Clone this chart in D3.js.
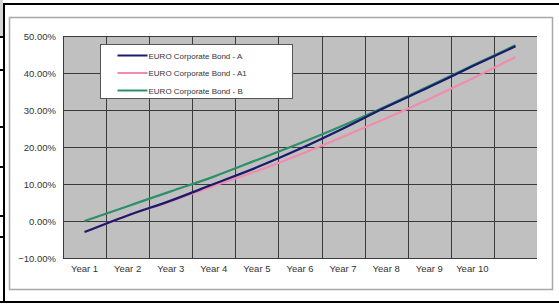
<!DOCTYPE html>
<html>
<head>
<meta charset="utf-8">
<script src="https://cdn.jsdelivr.net/npm/d3@7"></script>
<style>
  body { margin: 0; background: #fff; }
  svg { display: block; font-family: "Liberation Sans", Arial, sans-serif; }
</style>
</head>
<body>
<div id="chart"></div>
<script>
var categories = ["Year 1", "Year 2", "Year 3", "Year 4", "Year 5", "Year 6", "Year 7", "Year 8", "Year 9", "Year 10", ""];
var seriesNames = ["EURO Corporate Bond - A", "EURO Corporate Bond - A1", "EURO Corporate Bond - B"];
var bondA  = [-0.030, 0.015, 0.055, 0.100, 0.145, 0.195, 0.250, 0.308, 0.362, 0.418, 0.472];
var bondA1 = [-0.030, 0.015, 0.053, 0.095, 0.135, 0.180, 0.228, 0.278, 0.330, 0.385, 0.443];
var bondB  = [0.000, 0.040, 0.080, 0.120, 0.165, 0.210, 0.258, 0.310, 0.365, 0.420, 0.475];
var yTicks = [-0.1, 0, 0.1, 0.2, 0.3, 0.4, 0.5];
var colors = ["#1a1a6e", "#f08cae", "#2e8f6a"];

var svgWidth = 559, svgHeight = 307;
var plot = { left: 63, right: 537, top: 36, bottom: 258 };

var svg = d3.select("#chart").append("svg")
    .attr("width", svgWidth)
    .attr("height", svgHeight);

// page frame bits
svg.append("rect").attr("x", 0).attr("y", 0).attr("width", 3).attr("height", 36).attr("fill", "#d4d4d4");
svg.append("line").attr("x1", 4).attr("x2", 559).attr("y1", 4).attr("y2", 4).attr("stroke", "#000").attr("stroke-width", 2);
svg.append("line").attr("x1", 4).attr("x2", 4).attr("y1", 3).attr("y2", 303).attr("stroke", "#000").attr("stroke-width", 2);
svg.append("line").attr("x1", 0).attr("x2", 559).attr("y1", 302).attr("y2", 302).attr("stroke", "#000").attr("stroke-width", 2);
[37, 70, 127, 167, 216, 237].forEach(function(y) {
    svg.append("line").attr("x1", 0).attr("x2", 4).attr("y1", y).attr("y2", y).attr("stroke", "#000").attr("stroke-width", 2);
});

// chart area
svg.append("rect")
    .attr("x", 9.5).attr("y", 17.5).attr("width", 543).attr("height", 272)
    .attr("fill", "#fff").attr("stroke", "#a8a8a8").attr("stroke-width", 1.5);

var x = d3.scaleBand().domain(d3.range(categories.length)).range([plot.left, plot.right]);
var y = d3.scaleLinear().domain([-0.1, 0.5]).range([plot.bottom, plot.top]);

var chartGroup = svg.append("g");

chartGroup.append("rect")
    .attr("x", plot.left).attr("y", plot.top)
    .attr("width", plot.right - plot.left).attr("height", plot.bottom - plot.top)
    .attr("fill", "#c0c0c0");

// horizontal gridlines
chartGroup.selectAll(".hgrid")
    .data(yTicks)
    .enter()
    .append("line")
    .attr("x1", plot.left).attr("x2", plot.right)
    .attr("y1", d => Math.round(y(d)) + 0.5).attr("y2", d => Math.round(y(d)) + 0.5)
    .attr("stroke", "#3a3a3a").attr("stroke-width", 1);

// vertical gridlines at category boundaries
chartGroup.selectAll(".vgrid")
    .data(d3.range(1, categories.length))
    .enter()
    .append("line")
    .attr("x1", d => Math.round(x(d)) + 0.5).attr("x2", d => Math.round(x(d)) + 0.5)
    .attr("y1", plot.top).attr("y2", plot.bottom)
    .attr("stroke", "#3a3a3a").attr("stroke-width", 1);

// axis line
chartGroup.append("line")
    .attr("x1", plot.left + 0.5).attr("x2", plot.left + 0.5)
    .attr("y1", plot.top).attr("y2", plot.bottom)
    .attr("stroke", "#3a3a3a");

// y labels
var yAxis = d3.axisLeft(y).tickValues(yTicks).tickSize(0).tickPadding(7)
    .tickFormat(d => d3.format(".2f")(d * 100) + "%");
chartGroup.append("g")
    .attr("transform", `translate(${plot.left}, 0)`)
    .call(yAxis)
    .call(g => g.select(".domain").remove())
    .call(g => g.selectAll("text").attr("font-size", "9.5px").attr("fill", "#333").attr("font-family", "Liberation Sans, Arial, sans-serif"));

// x labels
var xAxis = d3.axisBottom(x).tickSize(0).tickPadding(7).tickFormat(i => categories[i]);
chartGroup.append("g")
    .attr("transform", `translate(0, ${plot.bottom})`)
    .call(xAxis)
    .call(g => g.select(".domain").remove())
    .call(g => g.selectAll("text").attr("font-size", "9.5px").attr("fill", "#333").attr("font-family", "Liberation Sans, Arial, sans-serif"));

// lines
var line = d3.line()
    .x((d, i) => x(i) + x.bandwidth() / 2)
    .y(d => y(d))
    .curve(d3.curveMonotoneX);

var allSeries = [bondA, bondA1, bondB];
[1, 2, 0].forEach(function(idx) {
    chartGroup.append("path")
        .datum(allSeries[idx])
        .attr("d", line)
        .attr("fill", "none")
        .attr("stroke", colors[idx])
        .attr("stroke-width", 2.2);
});

// legend
var legend = svg.append("g").attr("transform", "translate(100.5, 44.5)");
legend.append("rect")
    .attr("width", 192).attr("height", 54)
    .attr("fill", "#fff").attr("stroke", "#555").attr("stroke-width", 1);
seriesNames.forEach(function(name, i) {
    var ly = 11 + i * 17.5;
    legend.append("line")
        .attr("x1", 17).attr("x2", 47).attr("y1", ly).attr("y2", ly)
        .attr("stroke", colors[i]).attr("stroke-width", 2);
    legend.append("text")
        .attr("x", 48).attr("y", ly + 3)
        .attr("font-size", "8px").attr("fill", "#333")
        .text(name);
});
</script>
</body>
</html>
